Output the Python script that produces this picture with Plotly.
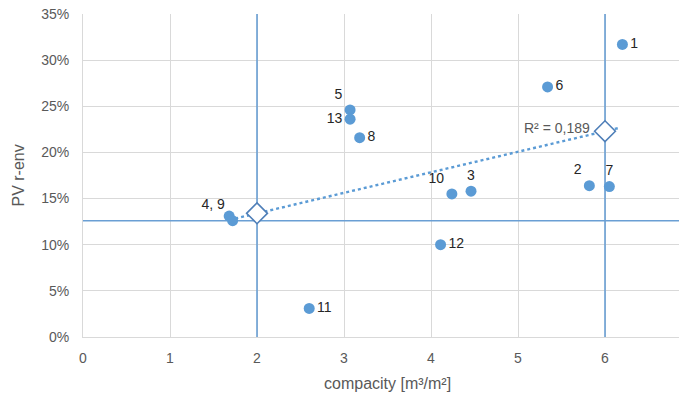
import plotly.graph_objects as go

# Data
ids = ["1", "2", "3", "4", "5", "6", "7", "8", "9", "10", "11", "12", "13"]
compacity = [6.20, 5.82, 4.46, 1.68, 3.07, 5.34, 6.05, 3.18, 1.72, 4.24, 2.60, 4.11, 3.07]
pv_renv = [0.317, 0.164, 0.158, 0.131, 0.246, 0.271, 0.163, 0.216, 0.126, 0.155, 0.031, 0.100, 0.236]
labels = ["1", "2", "3", "", "5", "6", "7", "8", "4, 9", "10", "11", "12", "13"]
label_pos = ["middle right", "top left", "top center", "top left", "top left", "middle right",
             "top center", "middle right", "top left", "top left", "middle right",
             "middle right", "middle left"]

trend_x = [1.75, 6.15]
trend_y = [0.1284, 0.2263]
diamond_x = [2, 6]
diamond_y = [0.134, 0.223]
vline_x = [2, 6]
hline_y = 0.126
r2_text = "R² = 0,189"

x_ticks = [0, 1, 2, 3, 4, 5, 6, 7]
y_ticks = [0, 0.05, 0.10, 0.15, 0.20, 0.25, 0.30, 0.35]
x_range = [0, 7]
y_range = [0, 0.35]

blue = "#5B9BD5"
line_blue = "#6A9FD4"
grey = "#595959"
font = "Liberation Sans"

fig = go.Figure()

# reference lines (vertical and horizontal), drawn through the axes
for vx in vline_x:
    fig.add_trace(go.Scatter(x=[vx, vx], y=y_range, mode="lines",
                             line=dict(color=line_blue, width=1.6),
                             hoverinfo="skip", showlegend=False))
fig.add_trace(go.Scatter(x=x_range, y=[hline_y, hline_y], mode="lines",
                         line=dict(color=line_blue, width=1.6),
                         hoverinfo="skip", showlegend=False))

fig.add_trace(go.Scatter(
    x=trend_x, y=trend_y, mode="lines",
    line=dict(color=blue, width=2.4, dash="dot"),
    hoverinfo="skip", showlegend=False))

fig.add_trace(go.Scatter(
    x=compacity, y=pv_renv, mode="markers+text",
    marker=dict(color=blue, size=11),
    text=labels, textposition=label_pos,
    textfont=dict(family=font, size=14, color="#262626"),
    showlegend=False))

fig.add_trace(go.Scatter(
    x=diamond_x, y=diamond_y, mode="markers",
    marker=dict(symbol="diamond", size=16, color="white",
                line=dict(color="#4F7FB8", width=1.6)),
    hoverinfo="skip", showlegend=False))

fig.add_annotation(x=5.45, y=0.227, text=r2_text, showarrow=False,
                   font=dict(family=font, size=14, color=grey))

fig.add_annotation(x=0.5, y=0, xref="paper", yref="paper", yanchor="middle",
                   yshift=-46, text="compacity [m³/m²]", showarrow=False,
                   font=dict(family=font, size=16, color=grey))
fig.add_annotation(x=0, y=0.5, xref="paper", yref="paper", xanchor="center",
                   xshift=-65, text="PV r-env", textangle=-90, showarrow=False,
                   font=dict(family=font, size=16, color=grey))

fig.update_layout(
    width=687, height=402,
    margin=dict(l=75, r=3, t=6, b=73),
    paper_bgcolor="white", plot_bgcolor="white",
    font=dict(family=font, size=14, color=grey),
    xaxis=dict(range=x_range, tickvals=x_ticks, showgrid=True, automargin=False,
               gridcolor="#D9D9D9", gridwidth=1, zeroline=False,
               showline=True, linecolor="#D9D9D9", linewidth=1,
               ticks="outside", ticklen=8, tickcolor="rgba(0,0,0,0)",
               ticklabeloverflow="allow",
               tickfont=dict(family=font, size=14, color=grey)),
    yaxis=dict(range=y_range, tickvals=y_ticks, tickformat=".0%", automargin=False,
               showgrid=True, gridcolor="#D9D9D9", gridwidth=1, zeroline=False,
               showline=True, linecolor="#D9D9D9", linewidth=1,
               ticks="outside", ticklen=10, tickcolor="rgba(0,0,0,0)",
               ticklabeloverflow="allow",
               tickfont=dict(family=font, size=14, color=grey)),
)

fig.write_html("out.html")
